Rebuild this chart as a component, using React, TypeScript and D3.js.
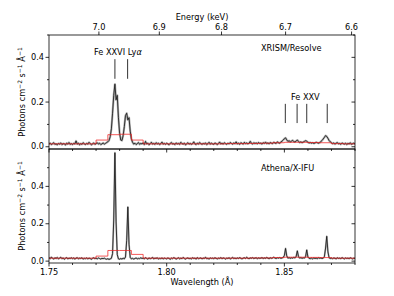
import React from "react";
import * as d3 from "d3";

// ---------- data ----------
const LAMBDA_START = 1.75; // Å, first spectral bin
const LAMBDA_STEP = 0.0005; // Å, bin width

// XRISM/Resolve simulated flux (photons cm^-2 s^-1 Å^-1)
const fluxResolve = [
  0.012, 0.016, 0.010, 0.014, 0.018, 0.011, 0.013, 0.009, 0.015, 0.012, 0.017, 0.010, 0.014, 0.013, 0.008, 0.016, 0.012, 0.019, 0.011, 0.014,
  0.010, 0.015, 0.013, 0.026, 0.012, 0.016, 0.009, 0.014, 0.011, 0.018, 0.013, 0.010, 0.015, 0.012, 0.020, 0.014, 0.009, 0.013, 0.017, 0.011,
  0.014, 0.018, 0.012, 0.016, 0.010, 0.013, 0.017, 0.012, 0.015, 0.019, 0.022, 0.028, 0.045, 0.080, 0.150, 0.230, 0.280, 0.210, 0.230, 0.130,
  0.060, 0.030, 0.028, 0.050, 0.090, 0.140, 0.150, 0.120, 0.130, 0.070, 0.035, 0.020, 0.012, 0.016, 0.010, 0.014, 0.019, 0.011, 0.015, 0.013,
  0.017, 0.010, 0.024, 0.013, 0.016, 0.009, 0.014, 0.020, 0.012, 0.015, 0.011, 0.018, 0.013, 0.016, 0.010, 0.014, 0.021, 0.012, 0.015, 0.011,
  0.016, 0.013, 0.009, 0.015, 0.019, 0.012, 0.014, 0.010, 0.017, 0.013, 0.015, 0.011, 0.020, 0.014, 0.012, 0.016, 0.009, 0.013, 0.018, 0.012,
  0.015, 0.011, 0.014, 0.022, 0.013, 0.010, 0.016, 0.012, 0.019, 0.014, 0.011, 0.015, 0.013, 0.017, 0.010, 0.014, 0.020, 0.012, 0.016, 0.013,
  0.011, 0.017, 0.014, 0.010, 0.015, 0.021, 0.013, 0.016, 0.012, 0.018, 0.014, 0.011, 0.016, 0.013, 0.019, 0.015, 0.012, 0.017, 0.014, 0.022,
  0.013, 0.016, 0.011, 0.018, 0.015, 0.012, 0.020, 0.014, 0.017, 0.013, 0.016, 0.024, 0.015, 0.012, 0.018, 0.014, 0.017, 0.013, 0.019, 0.015,
  0.016, 0.012, 0.018, 0.015, 0.021, 0.014, 0.017, 0.013, 0.019, 0.016, 0.014, 0.020, 0.017, 0.015, 0.022, 0.018, 0.016, 0.021, 0.025, 0.030,
  0.036, 0.040, 0.031, 0.024, 0.027, 0.022, 0.025, 0.029, 0.023, 0.021, 0.026, 0.030, 0.024, 0.019, 0.022, 0.018, 0.021, 0.024, 0.027, 0.025,
  0.020, 0.017, 0.019, 0.016, 0.018, 0.015, 0.017, 0.020, 0.018, 0.016, 0.019, 0.023, 0.028, 0.035, 0.042, 0.050, 0.046, 0.038, 0.028, 0.022,
  0.018, 0.014, 0.017, 0.012, 0.016, 0.019, 0.013, 0.015, 0.011, 0.017, 0.014, 0.012, 0.016, 0.010, 0.015, 0.013, 0.018, 0.011, 0.014, 0.016, 0.012,
];

// Athena/X-IFU simulated flux
const fluxXIFU = [
  0.019, 0.013, 0.022, 0.015, 0.011, 0.018, 0.014, 0.020, 0.012, 0.016, 0.021, 0.013, 0.017, 0.010, 0.015, 0.019, 0.012, 0.016, 0.014, 0.018,
  0.013, 0.017, 0.011, 0.015, 0.019, 0.012, 0.016, 0.014, 0.018, 0.011, 0.015, 0.013, 0.017, 0.012, 0.016, 0.014, 0.010, 0.015, 0.018, 0.013,
  0.016, 0.012, 0.017, 0.014, 0.011, 0.015, 0.013, 0.016, 0.012, 0.010, 0.013, 0.009, 0.012, 0.015, 0.040, 0.220, 0.580, 0.210, 0.035, 0.012,
  0.010, 0.014, 0.011, 0.016, 0.012, 0.022, 0.110, 0.290, 0.090, 0.020, 0.012, 0.015, 0.011, 0.014, 0.017, 0.012, 0.015, 0.013, 0.018, 0.014,
  0.016, 0.012, 0.019, 0.014, 0.011, 0.017, 0.013, 0.015, 0.020, 0.012, 0.016, 0.014, 0.018, 0.011, 0.015, 0.013, 0.017, 0.012, 0.016, 0.014,
  0.012, 0.017, 0.014, 0.010, 0.016, 0.013, 0.019, 0.015, 0.011, 0.014, 0.018, 0.012, 0.016, 0.013, 0.020, 0.014, 0.011, 0.015, 0.017, 0.013,
  0.015, 0.012, 0.018, 0.014, 0.016, 0.011, 0.019, 0.013, 0.015, 0.017, 0.012, 0.016, 0.014, 0.021, 0.013, 0.015, 0.011, 0.017, 0.014, 0.016,
  0.013, 0.018, 0.015, 0.012, 0.016, 0.014, 0.019, 0.013, 0.017, 0.015, 0.011, 0.016, 0.014, 0.018, 0.012, 0.015, 0.020, 0.014, 0.016, 0.013,
  0.017, 0.014, 0.019, 0.015, 0.012, 0.016, 0.018, 0.014, 0.021, 0.015, 0.013, 0.017, 0.015, 0.019, 0.014, 0.016, 0.018, 0.013, 0.017, 0.015,
  0.016, 0.019, 0.014, 0.017, 0.015, 0.020, 0.016, 0.013, 0.018, 0.015, 0.017, 0.021, 0.016, 0.014, 0.018, 0.016, 0.019, 0.015, 0.017, 0.020,
  0.030, 0.068, 0.028, 0.016, 0.019, 0.015, 0.018, 0.016, 0.020, 0.017, 0.025, 0.055, 0.024, 0.016, 0.019, 0.015, 0.018, 0.016, 0.024, 0.060,
  0.022, 0.015, 0.013, 0.016, 0.012, 0.017, 0.014, 0.016, 0.013, 0.018, 0.015, 0.017, 0.014, 0.016, 0.024, 0.070, 0.133, 0.050, 0.018, 0.014,
  0.016, 0.013, 0.017, 0.015, 0.012, 0.018, 0.014, 0.016, 0.013, 0.019, 0.015, 0.012, 0.017, 0.014, 0.016, 0.013, 0.018, 0.015, 0.012, 0.016, 0.014,
];

// coarse-resolution model (red step curve), bin edges in Å
const modelEdges = [
  1.750, 1.755, 1.760, 1.765, 1.770, 1.775, 1.780, 1.785, 1.790, 1.795, 1.800, 1.805, 1.810,
  1.815, 1.820, 1.825, 1.830, 1.835, 1.840, 1.845, 1.850, 1.855, 1.860, 1.865, 1.870, 1.875, 1.880,
];
const modelResolve = [
  0.013, 0.013, 0.013, 0.013, 0.030, 0.054, 0.056, 0.030, 0.013, 0.013, 0.013, 0.013, 0.013,
  0.013, 0.013, 0.014, 0.014, 0.015, 0.016, 0.018, 0.020, 0.020, 0.019, 0.018, 0.014, 0.013,
];
const modelXIFU = [
  0.016, 0.016, 0.016, 0.016, 0.027, 0.057, 0.057, 0.036, 0.016, 0.016, 0.016, 0.016, 0.016,
  0.016, 0.016, 0.016, 0.016, 0.017, 0.017, 0.019, 0.021, 0.021, 0.020, 0.019, 0.016, 0.016,
];

// line identifications
const feXXVILines = [1.7780, 1.7834];
const feXXVLines = [1.8504, 1.8554, 1.8595, 1.8682];
const feXXVIMarkY = [0.304, 0.392];
const feXXVMarkY = [0.106, 0.192];

const energyTicks = [7.0, 6.9, 6.8, 6.7, 6.6];
const HC = 12.3984; // keV Å
const wavelengthTicks = [1.75, 1.8, 1.85];

// ---------- layout ----------
const W = 394;
const H = 296;
const L = 49;
const R = 355;
const P1 = [35, 149];
const P2 = [149, 263];
const FONT = "DejaVu Sans, sans-serif";
const FS = 8.2;

const x = d3.scaleLinear().domain([1.75, 1.88]).range([L, R]);
const y1 = d3.scaleLinear().domain([-0.01, 0.5]).range([P1[1], P1[0]]);
const y2 = d3.scaleLinear().domain([-0.01, 0.6]).range([P2[1], P2[0]]);

const lam = (i: number) => LAMBDA_START + i * LAMBDA_STEP;

function specPath(flux: number[], ys: d3.ScaleLinear<number, number>) {
  return d3
    .line<number>()
    .x((_, i) => x(lam(i)))
    .y((d) => ys(d))(flux) as string;
}

function modelPath(vals: number[], ys: d3.ScaleLinear<number, number>) {
  const pts: [number, number][] = vals.map((v, i) => [modelEdges[i], v]);
  pts.push([modelEdges[modelEdges.length - 1], vals[vals.length - 1]]);
  return d3
    .line<[number, number]>()
    .curve(d3.curveStepAfter)
    .x((d) => x(d[0]))
    .y((d) => ys(d[1]))(pts) as string;
}

function YAxis({ ys, top, labels }: { ys: d3.ScaleLinear<number, number>; top: number; labels: number[] }) {
  const ticks = d3.range(0, top + 1e-9, 0.1);
  return (
    <g>
      {ticks.map((t) => {
        const major = labels.some((l) => Math.abs(l - t) < 1e-6);
        const yy = ys(t);
        const len = major ? 3.5 : 2;
        return (
          <g key={t}>
            <line x1={L - len} x2={L} y1={yy} y2={yy} stroke="#000" strokeWidth={0.8} />
            <line x1={R - len} x2={R} y1={yy} y2={yy} stroke="#000" strokeWidth={0.8} />
            {major && (
              <text x={L - 5} y={yy} dy="0.33em" textAnchor="end" fontSize={FS} fontFamily={FONT}>
                {t.toFixed(1)}
              </text>
            )}
          </g>
        );
      })}
    </g>
  );
}

function XTicks({ yb, labels }: { yb: number; labels: boolean }) {
  const ticks = d3.range(1.75, 1.8801, 0.01);
  return (
    <g>
      {ticks.map((t) => {
        const major = wavelengthTicks.some((m) => Math.abs(m - t) < 1e-6);
        const len = major ? 3.5 : 2;
        const xx = x(t);
        return (
          <g key={t}>
            <line x1={xx} x2={xx} y1={yb} y2={yb + len} stroke="#000" strokeWidth={0.8} />
            {major && labels && (
              <text x={xx} y={yb + 12} textAnchor="middle" fontSize={FS} fontFamily={FONT}>
                {t.toFixed(2)}
              </text>
            )}
          </g>
        );
      })}
    </g>
  );
}

function YLabel({ cy }: { cy: number }) {
  return (
    <text
      transform={`translate(25,${cy}) rotate(-90)`}
      textAnchor="middle"
      fontSize={FS}
      fontFamily={FONT}
    >
      Photons cm
      <tspan dy={-3} fontSize={6}>−2</tspan>
      <tspan dy={3}> s</tspan>
      <tspan dy={-3} fontSize={6}>−1</tspan>
      <tspan dy={3}> Å</tspan>
      <tspan dy={-3} fontSize={6}>−1</tspan>
    </text>
  );
}

export default function App() {
  return (
    <svg width={W} height={H} style={{ position: "absolute", left: 0, top: 0, background: "#fff" }}>
      <defs>
        <clipPath id="c1">
          <rect x={L} y={P1[0]} width={R - L} height={P1[1] - P1[0]} />
        </clipPath>
        <clipPath id="c2">
          <rect x={L} y={P2[0]} width={R - L} height={P2[1] - P2[0]} />
        </clipPath>
      </defs>

      {/* top panel */}
      <g clipPath="url(#c1)">
        <path d={specPath(fluxResolve, y1)} fill="none" stroke="#b0b0b0" strokeWidth={2.2} strokeLinejoin="round" />
        <path d={specPath(fluxResolve, y1)} fill="none" stroke="#111" strokeWidth={0.8} strokeLinejoin="round" />
        <path d={modelPath(modelResolve, y1)} fill="none" stroke="#ee2222" strokeOpacity={0.75} strokeWidth={1} />
      </g>
      {/* bottom panel */}
      <g clipPath="url(#c2)">
        <path d={specPath(fluxXIFU, y2)} fill="none" stroke="#b0b0b0" strokeWidth={1.8} strokeLinejoin="round" />
        <path d={specPath(fluxXIFU, y2)} fill="none" stroke="#111" strokeWidth={0.8} strokeLinejoin="round" />
        <path d={modelPath(modelXIFU, y2)} fill="none" stroke="#ee2222" strokeOpacity={0.75} strokeWidth={1} />
      </g>

      {/* line markers */}
      {feXXVILines.map((l) => (
        <line key={l} x1={x(l)} x2={x(l)} y1={y1(feXXVIMarkY[0])} y2={y1(feXXVIMarkY[1])} stroke="#333" strokeWidth={1} />
      ))}
      {feXXVLines.map((l) => (
        <line key={l} x1={x(l)} x2={x(l)} y1={y1(feXXVMarkY[0])} y2={y1(feXXVMarkY[1])} stroke="#333" strokeWidth={1} />
      ))}
      <text x={94} y={55} fontSize={FS} fontFamily={FONT}>
        Fe XXVI Ly<tspan fontStyle="italic">α</tspan>
      </text>
      <text x={291} y={100} fontSize={FS} fontFamily={FONT}>Fe XXV</text>
      <text x={261} y={51} fontSize={FS} fontFamily={FONT}>XRISM/Resolve</text>
      <text x={261} y={171} fontSize={FS} fontFamily={FONT}>Athena/X-IFU</text>

      {/* axes */}
      <YAxis ys={y1} top={0.5} labels={[0, 0.2, 0.4]} />
      <YAxis ys={y2} top={0.5} labels={[0, 0.2, 0.4]} />
      <XTicks yb={P1[1]} labels={false} />
      <XTicks yb={P2[1]} labels={true} />

      {/* energy axis */}
      {energyTicks.map((e) => {
        const xx = x(HC / e);
        return (
          <g key={e}>
            <line x1={xx} x2={xx} y1={P1[0]} y2={P1[0] - 3.5} stroke="#000" strokeWidth={0.8} />
            <text x={xx} y={P1[0] - 5} textAnchor="middle" fontSize={FS} fontFamily={FONT}>
              {e.toFixed(1)}
            </text>
          </g>
        );
      })}
      <text x={(L + R) / 2} y={20} textAnchor="middle" fontSize={FS} fontFamily={FONT}>Energy (keV)</text>

      <rect x={L} y={P1[0]} width={R - L} height={P1[1] - P1[0]} fill="none" stroke="#000" strokeWidth={0.8} />
      <rect x={L} y={P2[0]} width={R - L} height={P2[1] - P2[0]} fill="none" stroke="#000" strokeWidth={0.8} />

      <YLabel cy={(P1[0] + P1[1]) / 2} />
      <YLabel cy={(P2[0] + P2[1]) / 2} />
      <text x={(L + R) / 2} y={285} textAnchor="middle" fontSize={FS} fontFamily={FONT}>Wavelength (Å)</text>
    </svg>
  );
}
